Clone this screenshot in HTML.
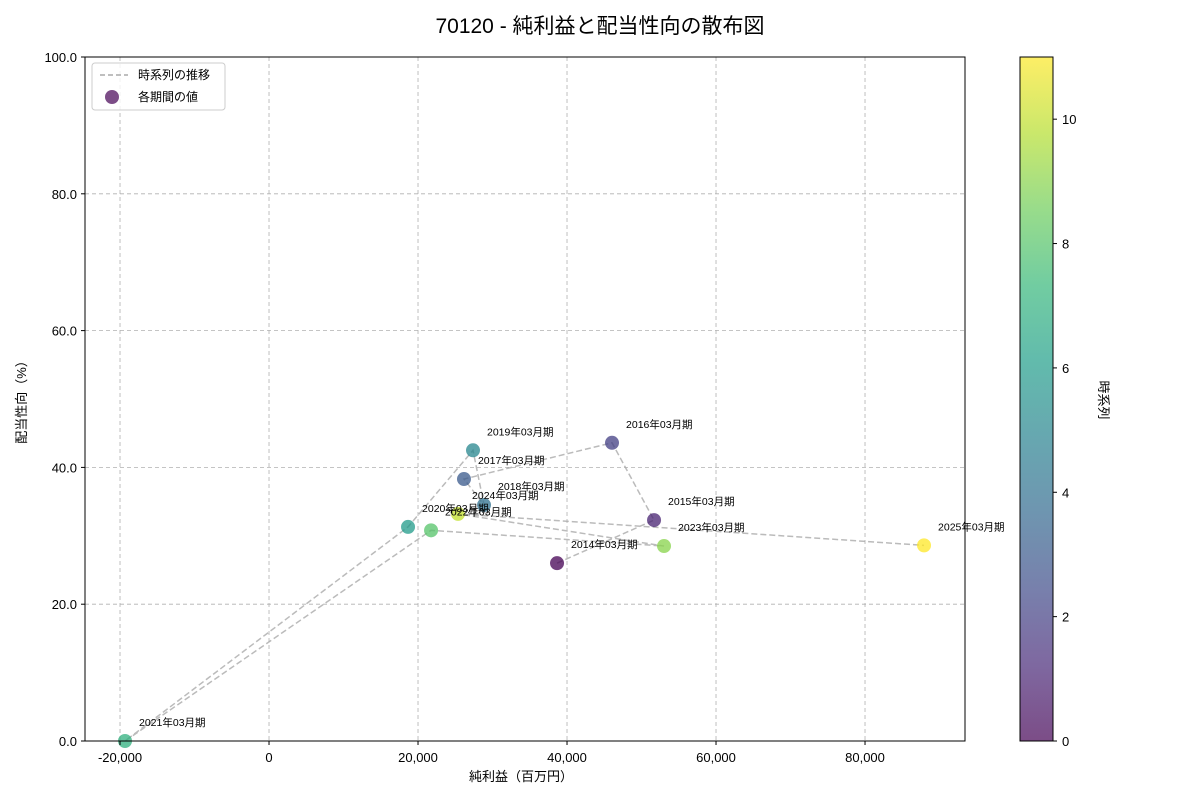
<!DOCTYPE html>
<html><head><meta charset="utf-8">
<style>
body{margin:0;background:#fff;font-family:"Liberation Sans","Noto Sans CJK JP",sans-serif;}
svg text{font-family:"Liberation Sans","Noto Sans CJK JP",sans-serif;}
</style></head>
<body>
<svg id="chart" width="1200" height="800" xmlns="http://www.w3.org/2000/svg">
<defs>
<linearGradient id="vir" x1="0" y1="1" x2="0" y2="0"></linearGradient>
</defs>
<text x="600" y="33" font-size="21" text-anchor="middle" fill="#000">70120 - 純利益と配当性向の散布図</text>
<g id="grid"></g>
<g id="lines"></g>
<g id="points"></g>
<g id="labels"></g>
<rect x="85" y="57" width="880" height="684" fill="none" stroke="#000" stroke-width="1"/>
<g id="xticks"></g>
<g id="yticks"></g>
<text x="521" y="781" font-size="13" text-anchor="middle">純利益（百万円）</text>
<text transform="translate(26,399) rotate(-90)" font-size="13" text-anchor="middle">配当性向（%）</text>
<g>
<rect x="92" y="63" width="133" height="47" fill="#fff" fill-opacity="0.8" stroke="#ccc" rx="3"/>
<line x1="100" y1="75" x2="128" y2="75" stroke="#aaa" stroke-width="1.5" stroke-dasharray="5,3"/>
<text x="138" y="79" font-size="12">時系列の推移</text>
<circle cx="112" cy="97" r="7" fill="#440154" fill-opacity="0.7"/>
<text x="138" y="101" font-size="12">各期間の値</text>
</g>
<rect x="1020" y="57" width="33" height="684" fill="url(#vir)" fill-opacity="0.7" stroke="#000" stroke-width="1"/>
<g id="cticks"></g>
<text transform="translate(1099,400) rotate(90)" font-size="13" text-anchor="middle">時系列</text>
</svg>
<script>
const periods=["2014年03月期","2015年03月期","2016年03月期","2017年03月期","2018年03月期","2019年03月期","2020年03月期","2021年03月期","2022年03月期","2023年03月期","2024年03月期","2025年03月期"];
const netIncome=[38660,51680,46040,26170,28860,27380,18660,-19330,21750,53020,25370,87920];
const payout=[26.0,32.3,43.6,38.3,34.5,42.5,31.3,0.0,30.8,28.5,33.2,28.6];
const xTicks=[-20000,0,20000,40000,60000,80000];
const yTicks=[0,20,40,60,80,100];
const cTicks=[0,2,4,6,8,10];
const NS="http://www.w3.org/2000/svg";
const X0=85,X1=965,Y0=741,Y1=57,xmin=-24700,xmax=93420,ymin=0,ymax=100;
const sx=v=>X0+(v-xmin)/(xmax-xmin)*(X1-X0);
const sy=v=>Y0-(v-ymin)/(ymax-ymin)*(Y0-Y1);
const vir=["#440154","#482878","#3e4a89","#31688e","#26828e","#1f9e89","#35b779","#6dcd59","#b4de2c","#fde725"];
function hex(h){return [1,3,5].map(i=>parseInt(h.substr(i,2),16));}
function cmap(t){const p=t*(vir.length-1),i=Math.min(Math.floor(p),vir.length-2),f=p-i;const a=hex(vir[i]),b=hex(vir[i+1]);return "rgb("+a.map((v,k)=>Math.round(v+(b[k]-v)*f)).join(",")+")";}
function mk(tag,attrs,parent,txt){const e=document.createElementNS(NS,tag);for(const k in attrs)e.setAttribute(k,attrs[k]);if(txt!==undefined)e.textContent=txt;document.getElementById(parent).appendChild(e);return e;}
const g=document.getElementById("vir");
vir.forEach((c,i)=>{const s=document.createElementNS(NS,"stop");s.setAttribute("offset",i/(vir.length-1));s.setAttribute("stop-color",c);g.appendChild(s);});
const fmt=v=>v<0?"-"+Math.abs(v).toLocaleString("en-US"):v.toLocaleString("en-US");
xTicks.forEach(v=>{const x=sx(v);
const l=mk("line",{x1:x,x2:x,y1:Y1,y2:Y0,stroke:"#b0b0b0","stroke-dasharray":"4,3","stroke-width":0.8},"grid");


mk("line",{x1:x,x2:x,y1:Y0,y2:Y0+4,stroke:"#000"},"xticks");
const t=mk("text",{x:x,y:762,"font-size":13,"text-anchor":"middle"},"xticks",fmt(v));

});
yTicks.forEach(v=>{const y=sy(v);
const l=mk("line",{x1:X0,x2:X1,y1:y,y2:y,stroke:"#b0b0b0","stroke-dasharray":"4,3","stroke-width":0.8},"grid");


mk("line",{x1:X0-4,x2:X0,y1:y,y2:y,stroke:"#000"},"yticks");
const t=mk("text",{x:X0-8,y:y+5,"font-size":13,"text-anchor":"end"},"yticks",v.toFixed(1));

});
const cmax=periods.length-1;
cTicks.forEach(v=>{const y=741-v/cmax*684;
mk("line",{x1:1053,x2:1057,y1:y,y2:y,stroke:"#000"},"cticks");
const t=mk("text",{x:1062,y:y+5,"font-size":13},"cticks",String(v));

});
const pl=mk("polyline",{points:netIncome.map((v,i)=>sx(v)+","+sy(payout[i])).join(" "),fill:"none",stroke:"#aaa","stroke-width":1.5,"stroke-dasharray":"6,3","stroke-opacity":0.8},"lines");


netIncome.forEach((v,i)=>{const x=sx(v),y=sy(payout[i]);
const c=mk("circle",{cx:x,cy:y,r:7,fill:cmap(i/cmax),"fill-opacity":0.75},"points");


const t=mk("text",{x:x+14,y:y-15,"font-size":10.5},"labels",periods[i]);

});
</script>
</body></html>
